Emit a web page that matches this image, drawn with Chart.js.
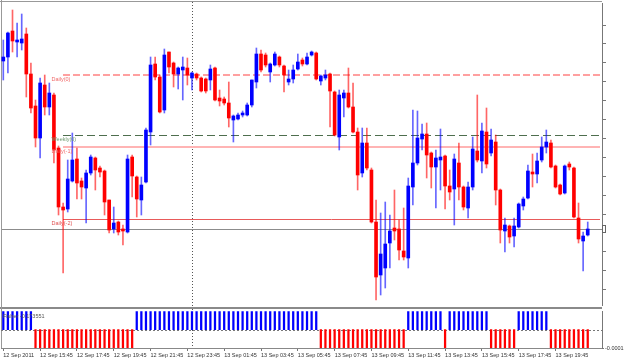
<!DOCTYPE html>
<html>
<head>
<meta charset="utf-8">
<script src="https://cdn.jsdelivr.net/npm/chart.js@4.4.0/dist/chart.umd.min.js"></script>
<style>
	html, body { margin: 0; padding: 0; background: #fff; }
	#wrap { position: relative; width: 625px; height: 362px; overflow: hidden; background: #fff; }
	canvas { position: absolute; left: 0; }
	#price-chart { top: 0; }
	#fisher-chart { top: 307px; }
</style>
</head>
<body>
<div id="wrap">
	<canvas id="price-chart" width="625" height="307"></canvas>
	<canvas id="fisher-chart" width="625" height="55"></canvas>
</div>
<script>
"use strict";

/* 15 minute bars, 12 Sep 2011 13:45 -> 13 Sep 2011 21:30 (price in chart points) */
const open = [249,253,279,268,267,276,236,204,172,225, 203,215,162,103,101,129,151,129,122,137,
	152,142,139,110,81,88,81,78,153,133, 110,128,178,246,233,200,258,247,236,240,
	242,232,236,232,231,230,242,212,211,207, 190,191,195,195,205,228,256,255,238,245,
	253,244,228,231,241,250,246,255,257,229, 232,236,218,173,212,217,203,178,137,167,
	140,88,35,42,67,82,81,59,52,123, 147,171,176,157,143,150,154,124,121,147,
	123,102,123,159,149,178,157,168,120,79, 84,74,83,104,112,138,136,150,163,167,
	144,125,117,146,142,92,69,75];
const high = [270,278,300,287,296,282,247,210,232,235, 227,217,164,107,150,177,162,132,140,155,
	153,144,140,110,103,89,85,155,155,134, 133,182,253,253,235,261,258,248,243,253,
	252,238,237,233,232,245,243,220,213,228, 195,197,199,207,230,262,260,257,247,258,
	254,245,240,245,256,252,257,259,258,235, 240,237,219,220,220,242,227,182,182,182,
	142,110,97,108,95,120,90,102,132,200, 199,186,187,158,160,181,155,140,156,167,
	124,128,173,215,187,202,181,175,121,92, 85,92,107,113,145,156,157,173,180,170,
	145,126,145,148,143,107,78,88];
const low = [230,237,258,253,260,213,197,163,152,195, 195,147,95,37,98,128,111,111,87,135,
	120,133,95,77,77,75,65,77,113,93, 95,127,165,230,197,197,237,223,221,210,
	225,220,230,218,217,220,209,204,205,183, 168,190,193,194,203,222,238,243,228,244,
	243,218,225,227,240,244,245,254,230,225, 230,183,174,160,193,202,177,120,133,140,
	87,10,15,22,42,70,50,50,42,105, 145,160,132,122,102,120,101,110,85,110,
	100,92,120,148,137,142,154,105,67,58, 67,63,82,100,111,123,127,148,157,142,
	122,115,116,140,92,67,39,74];
const close = [253,277,269,270,271,236,202,172,227,203, 217,160,103,100,131,150,127,123,137,153,
	140,138,108,80,87,78,79,151,134,111, 125,180,245,233,198,255,243,236,242,243,
	235,237,232,219,219,241,210,209,207,192, 194,195,197,205,230,256,240,245,246,256,
	245,235,231,240,248,246,253,258,231,234, 235,219,175,215,217,203,178,135,167,142,
	88,33,56,66,79,79,60,53,124,147, 172,176,155,143,152,153,124,118,151,123,
	103,123,161,150,179,146,170,120,80,85, 73,84,106,111,139,136,149,163,168,143,
	123,116,144,143,93,71,74,81];

/* Fisher histogram: +1 blue, -1 red (units of 0.0001) */
const fisherDir = [1,1,1,1,1,1,1,-1,-1,-1, -1,-1,-1,-1,-1,-1,-1,-1,-1,-1,
	-1,-1,-1,-1,-1,-1,-1,-1,-1,1, 1,1,1,1,1,1,1,1,1,1,
	1,1,1,1,1,1,1,1,1,1, 1,1,1,1,1,1,1,1,1,1,
	1,1,1,1,1,1,1,1,1,-1, -1,-1,-1,-1,-1,-1,-1,-1,-1,-1,
	-1,-1,-1,-1,-1,-1,-1,-1,1,1, 1,1,1,1,1,1,-1,1,1,1,
	1,1,1,1,1,1,-1,-1,-1,-1, -1,-1,1,1,1,1,1,1,1,-1,
	-1,-1,-1,-1,-1,-1,-1,-1];
const fisherUnit = 0.0001;
const fisherText = "Fisher -0.173551";

const timeTicks = [0,8,16,24,32,40,48,56,64,72,80,88,96,104,112,120];
const timeLabels = ["12 Sep 2011","12 Sep 15:45","12 Sep 17:45","12 Sep 19:45","12 Sep 21:45","12 Sep 23:45",
	"13 Sep 01:45","13 Sep 03:45","13 Sep 05:45","13 Sep 07:45","13 Sep 09:45","13 Sep 11:45",
	"13 Sep 13:45","13 Sep 15:45","13 Sep 17:45","13 Sep 19:45"];

const pivotNames = ["Daily(0)","Weekly(0)","Daily(-1)","Daily(-2)"];
const pivotValues = [235, 175, 163.3, 90.7];
const pivotStart = 13;     // bar where pivot lines begin
const daySeparator = 41;   // 13 Sep 00:00

const pivotStyles = [
	{ line: "#ffa0a0", text: "#f06868", width: 2, dash: [7, 3] },
	{ line: "#4e6e4e", text: "#6f9a6f", width: 1, dash: [8, 4] },
	{ line: "#ffb4b4", text: "#f06868", width: 2, dash: [] },
	{ line: "#e85a5a", text: "#e05050", width: 1, dash: [] }
];

const FONT = '"Liberation Sans", Arial, sans-serif';
const bars = open.map((o, i) => i);
const isUp = bars.map(i => close[i] >= open[i]);

function vLineDotted(ctx, x, top, bottom){
	ctx.save();
	ctx.strokeStyle = "#555";
	ctx.lineWidth = 1;
	ctx.setLineDash([1, 2]);
	ctx.beginPath();
	ctx.moveTo(Math.round(x) + 0.5, top);
	ctx.lineTo(Math.round(x) + 0.5, bottom);
	ctx.stroke();
	ctx.restore();
}

function pivotY(chart, k){
	const py = Math.round(chart.scales.y.getPixelForValue(pivotValues[k]));
	return py + (pivotStyles[k].width % 2 ? 0.5 : 0);
}

const priceOverlay = {
	id: "priceOverlay",
	beforeDatasetsDraw(chart){
		const {ctx, chartArea: a, scales: {x, y}} = chart;
		ctx.save();
		// frame
		ctx.strokeStyle = "#999";
		ctx.lineWidth = 1;
		ctx.beginPath();
		ctx.moveTo(0, 1.5); ctx.lineTo(a.right, 1.5);
		ctx.moveTo(1.5, 0); ctx.lineTo(1.5, 307);
		ctx.stroke();

		vLineDotted(ctx, x.getPixelForValue(daySeparator), 2, a.bottom + 2);

		// bid line
		const bid = Math.round(y.getPixelForValue(close[close.length - 1])) + 0.5;
		ctx.strokeStyle = "#8c8c8c";
		ctx.beginPath();
		ctx.moveTo(2, bid); ctx.lineTo(a.right, bid);
		ctx.stroke();

		// pivot levels
		const x0 = Math.round(x.getPixelForValue(pivotStart));
		pivotValues.forEach((v, k) => {
			const st = pivotStyles[k];
			const py = pivotY(chart, k);
			ctx.strokeStyle = st.line;
			ctx.lineWidth = st.width;
			ctx.setLineDash(st.dash);
			ctx.beginPath();
			ctx.moveTo(x0, py); ctx.lineTo(a.right - 2, py);
			ctx.stroke();
		});
		ctx.restore();
	},
	afterDatasetsDraw(chart){
		const {ctx, scales: {x}} = chart;
		const x0 = Math.round(x.getPixelForValue(pivotStart));
		ctx.save();
		ctx.font = "5.5px " + FONT;
		ctx.textBaseline = "top";
		pivotNames.forEach((name, k) => {
			ctx.fillStyle = pivotStyles[k].text;
			ctx.fillText(name, x0 - 11.5, pivotY(chart, k) + 1.5);
		});
		ctx.restore();
	},
	afterDraw(chart){
		const {ctx, chartArea: a, scales: {y}} = chart;
		const bid = Math.round(y.getPixelForValue(close[close.length - 1]));
		ctx.save();
		ctx.strokeStyle = "#666";
		ctx.lineWidth = 1;
		ctx.strokeRect(a.right + 0.5, bid - 3.5, 3, 7);
		ctx.restore();
	}
};

const fisherOverlay = {
	id: "fisherOverlay",
	beforeDatasetsDraw(chart){
		const {ctx, chartArea: a, scales: {x, y}} = chart;
		ctx.save();
		ctx.fillStyle = "#8a8a8a";
		ctx.fillRect(0, 0, a.right, 2);
		ctx.strokeStyle = "#999";
		ctx.lineWidth = 1;
		ctx.beginPath();
		ctx.moveTo(1.5, 0); ctx.lineTo(1.5, a.bottom);
		ctx.stroke();

		vLineDotted(ctx, x.getPixelForValue(daySeparator), 2, a.bottom);

		const zero = Math.round(y.getPixelForValue(0)) + 0.5;
		ctx.strokeStyle = "#777";
		ctx.setLineDash([2, 2]);
		ctx.beginPath();
		ctx.moveTo(a.left, zero); ctx.lineTo(a.right, zero);
		ctx.stroke();
		ctx.restore();
	},
	afterDatasetsDraw(chart){
		const {ctx, chartArea: a} = chart;
		ctx.save();
		ctx.fillStyle = "#555";
		ctx.font = "5.5px " + FONT;
		ctx.textBaseline = "middle";
		ctx.fillText(fisherText, a.left + 2, a.top + 5);
		ctx.restore();
	}
};

displayPriceChart();
displayFisherChart();

function displayPriceChart(){
	const ctx = document.querySelector("#price-chart").getContext("2d");
	new Chart(ctx, {
		type: "bar",
		data: {
			datasets: [{
				label: "body",
				data: bars.map(i => ({ x: i, y: [open[i], close[i]] })),
				backgroundColor: bars.map(i => isUp[i] ? "#0000ff" : "#ff0000"),
				barThickness: 3,
				minBarLength: 1,
				grouped: false,
				order: 0
			}, {
				label: "wick",
				data: bars.map(i => ({ x: i, y: [low[i], high[i]] })),
				backgroundColor: bars.map(i => isUp[i] ? "rgba(0,0,255,0.6)" : "rgba(255,0,0,0.6)"),
				barThickness: 1,
				grouped: false,
				order: 1
			}]
		},
		options: {
			responsive: false,
			animation: false,
			events: [],
			layout: { padding: { left: 1, top: 3, right: 0, bottom: 2 } },
			plugins: { legend: { display: false }, tooltip: { enabled: false } },
			scales: {
				x: { type: "linear", min: -0.5, max: 130.1, offset: false, display: false },
				y: {
					position: "right",
					min: 5,
					max: 307,
					afterFit: s => { s.width = 23; },
					afterBuildTicks: s => {
						const t = [];
						for (let v = 285; v > 10; v -= 18.9) t.push({ value: v });
						s.ticks = t;
					},
					ticks: { display: false },
					grid: { drawOnChartArea: false, tickLength: 4, color: "#777" },
					border: { color: "#777" }
				}
			}
		},
		plugins: [priceOverlay]
	});
}

function displayFisherChart(){
	const ctx = document.querySelector("#fisher-chart").getContext("2d");
	new Chart(ctx, {
		type: "bar",
		data: {
			datasets: [{
				label: "Fisher",
				data: bars.map(i => ({ x: i, y: fisherDir[i] * fisherUnit })),
				backgroundColor: bars.map(i => fisherDir[i] > 0 ? "#0000ff" : "#ff0000"),
				barThickness: 1.6,
				grouped: false
			}]
		},
		options: {
			responsive: false,
			animation: false,
			events: [],
			layout: { padding: { left: 1, top: 3, right: 0, bottom: 0 } },
			plugins: { legend: { display: false }, tooltip: { enabled: false } },
			scales: {
				x: {
					type: "linear",
					min: -0.5,
					max: 130.1,
					offset: false,
					afterFit: s => { s.height = 14; },
					afterBuildTicks: s => { s.ticks = timeTicks.map(v => ({ value: v })); },
					ticks: {
						autoSkip: false,
						maxRotation: 0,
						align: "start",
						padding: 1,
						color: "#333",
						font: { family: FONT, size: 5.5 },
						callback: (v, k) => timeLabels[k]
					},
					grid: { drawOnChartArea: false, offset: false, tickLength: 3, color: "#777" },
					border: { color: "#888" }
				},
				y: {
					position: "right",
					min: -fisherUnit,
					max: fisherUnit,
					afterFit: s => { s.width = 23; },
					afterBuildTicks: s => { s.ticks = [{ value: -fisherUnit }]; },
					ticks: {
						padding: 1,
						color: "#333",
						font: { family: FONT, size: 5.5 },
						callback: v => v.toFixed(4)
					},
					grid: { drawOnChartArea: false, tickLength: 2, color: "#777" },
					border: { color: "#777" }
				}
			}
		},
		plugins: [fisherOverlay]
	});
}
</script>
</body>
</html>
